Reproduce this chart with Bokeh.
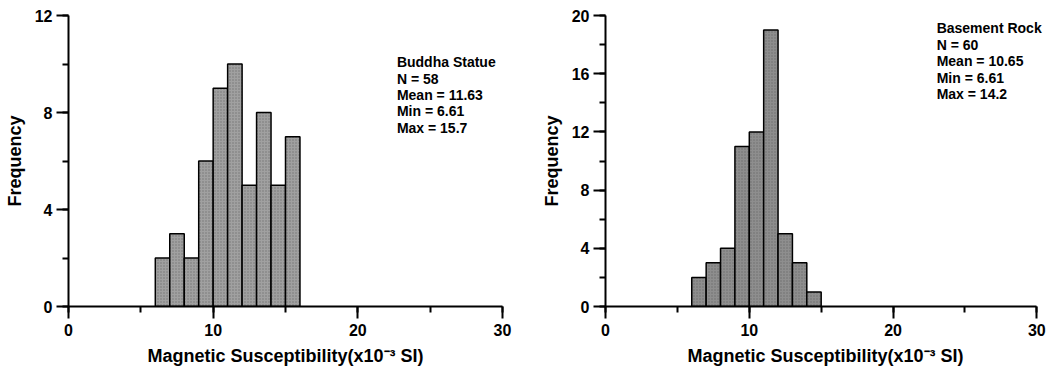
from bokeh.plotting import figure
from bokeh.layouts import row
from bokeh.models import Range1d, SingleIntervalTicker, Label
from bokeh.embed import file_html
from bokeh.resources import INLINE

# ---- data ----
bin_edges_left = [6, 7, 8, 9, 10, 11, 12, 13, 14, 15, 16]
counts_left = [2, 3, 2, 6, 9, 10, 5, 8, 5, 7]
stats_left = ["Buddha Statue", "N = 58", "Mean = 11.63", "Min = 6.61", "Max = 15.7"]

bin_edges_right = [6, 7, 8, 9, 10, 11, 12, 13, 14, 15]
counts_right = [2, 3, 4, 11, 12, 19, 5, 3, 1]
stats_right = ["Basement Rock", "N = 60", "Mean = 10.65", "Min = 6.61", "Max = 14.2"]

x_label = "Magnetic Susceptibility(x10\u207b\u00b3 SI)"
y_label = "Frequency"

FONT = "Liberation Sans"


def make_hist(edges, counts, stats, ymax, xend, width, height, bl, br, bt, bb,
              text_x, text_y0, text_dy, fill):
    p = figure(width=width, height=height, output_backend="svg",
               toolbar_location=None, x_range=Range1d(0, xend),
               y_range=Range1d(0, ymax),
               min_border_left=bl, min_border_right=br,
               min_border_top=bt, min_border_bottom=bb)
    p.outline_line_color = None
    p.grid.visible = False
    p.background_fill_color = "white"
    p.border_fill_color = "white"

    p.quad(left=edges[:-1], right=edges[1:], bottom=0, top=counts,
           fill_color=fill, line_color="black", line_width=1.5,
           hatch_pattern="dot", hatch_color="#505050", hatch_scale=3,
           hatch_alpha=0.55)

    p.xaxis.ticker = SingleIntervalTicker(interval=10, num_minor_ticks=2)
    p.yaxis.ticker = SingleIntervalTicker(interval=4, num_minor_ticks=2)
    p.xaxis.bounds = (0, 30)

    for ax in (p.xaxis[0], p.yaxis[0]):
        ax.axis_line_width = 2
        ax.axis_line_color = "black"
        ax.major_tick_line_width = 2
        ax.minor_tick_line_width = 2
        ax.major_tick_line_color = "black"
        ax.minor_tick_line_color = "black"
        ax.major_tick_in = 0
        ax.minor_tick_in = 0
        ax.major_tick_out = 12
        ax.minor_tick_out = 6
        ax.major_label_text_font = FONT
        ax.major_label_text_font_style = "bold"
        ax.major_label_text_font_size = "16px"
        ax.major_label_text_color = "black"
        ax.axis_label_text_font = FONT
        ax.axis_label_text_font_style = "bold"
        ax.axis_label_text_font_size = "18px"
        ax.axis_label_text_color = "black"

    p.xaxis.axis_label = x_label
    p.yaxis.axis_label = y_label
    p.xaxis.major_label_standoff = 5
    p.yaxis.major_label_standoff = 4
    p.xaxis.axis_label_standoff = 7
    p.yaxis.axis_label_standoff = 7

    for i, s in enumerate(stats):
        p.add_layout(Label(x=text_x, y=text_y0 - i * text_dy, text=s,
                           text_font=FONT, text_font_style="bold",
                           text_font_size="14px", text_color="black",
                           text_baseline="middle", text_align="left"))
    return p


left = make_hist(bin_edges_left, counts_left, stats_left, 12, 30,
                 width=536, height=372, bl=68, br=34, bt=15, bb=64,
                 text_x=22.7, text_y0=10.07, text_dy=0.676, fill="#a0a0a0")
right = make_hist(bin_edges_right, counts_right, stats_right, 20, 30.6,
                  width=518, height=372, bl=69, br=9, bt=14, bb=66,
                  text_x=23.03, text_y0=19.11, text_dy=1.13, fill="#8e8e8e")

layout = row(left, right)
open("out.html", "w").write(file_html(layout, INLINE))
